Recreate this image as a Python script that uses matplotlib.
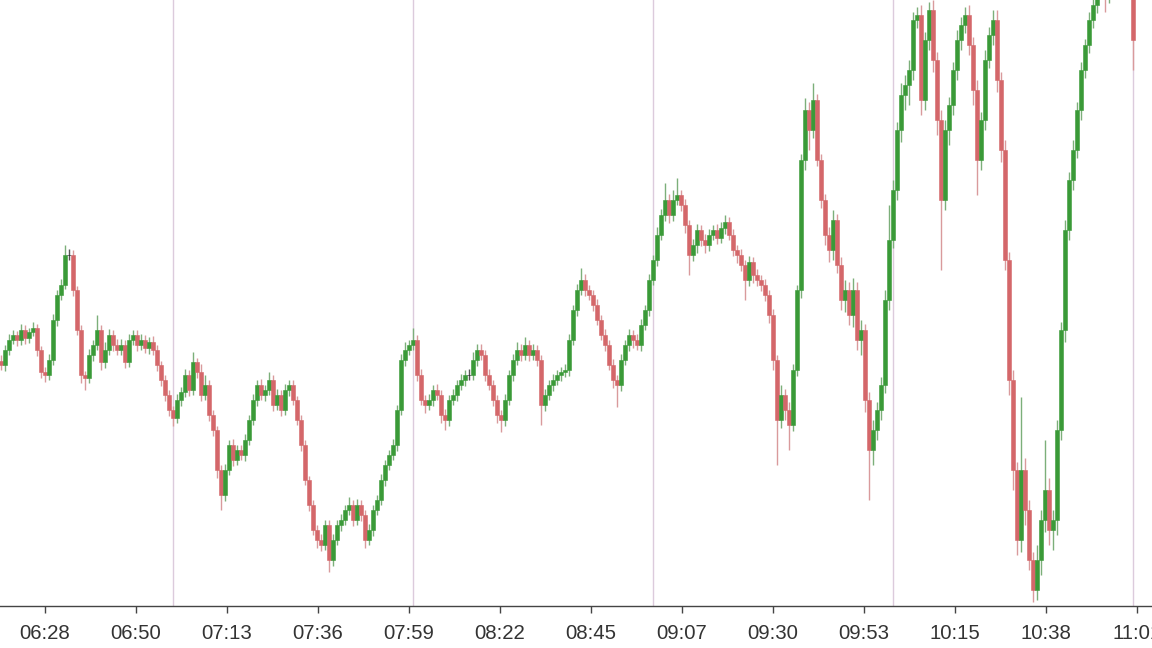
import matplotlib
matplotlib.use("Agg")
import matplotlib.pyplot as plt
import numpy as np

# one-minute bars, x in minutes counted from 06:00
bar_start = 17
first_open = 245

closes = [
    241, 256, 266, 271, 266, 276, 268, 274, 278, 256,
    234, 231, 246, 286, 311, 321, 351, 351, 316, 276,
    231, 228, 251, 261, 276, 244, 256, 271, 261, 256,
    261, 244, 266, 271, 261, 266, 258, 264, 256, 241,
    226, 211, 196, 188, 206, 214, 231, 216, 244, 234,
    211, 221, 191, 176, 136, 111, 136, 161, 146, 156,
    151, 166, 186, 206, 221, 211, 216, 226, 201, 211,
    196, 216, 221, 206, 186, 161, 126, 101, 76, 66,
    61, 81, 46, 66, 81, 86, 96, 101, 86, 101,
    91, 66, 76, 96, 106, 126, 141, 151, 161, 196,
    246, 256, 261, 266, 231, 206, 201, 206, 216, 211,
    191, 186, 206, 211, 221, 226, 231, 231, 246, 256,
    251, 231, 221, 206, 191, 186, 206, 231, 246, 256,
    251, 261, 251, 256, 246, 201, 211, 221, 226, 231,
    234, 236, 266, 296, 316, 326, 316, 311, 301, 286,
    271, 261, 241, 226, 221, 246, 261, 271, 266, 261,
    281, 296, 326, 346, 371, 391, 406, 391, 406, 411,
    401, 381, 351, 361, 376, 366, 361, 371, 376, 368,
    378, 384, 371, 356, 351, 341, 326, 344, 331, 326,
    321, 311, 291, 246, 186, 211, 196, 181, 236, 316,
    446, 496, 476, 506, 446, 406, 371, 356, 386, 341,
    306, 316, 291, 316, 266, 276, 206, 156, 176, 196,
    221, 306, 366, 416, 476, 511, 521, 536, 586, 591,
    506, 566, 596, 546, 486, 406, 476, 501, 536, 566,
    581, 591, 561, 516, 446, 486, 546, 571, 586, 526,
    456, 346, 226, 136, 66, 136, 96, 46, 16, 46,
    86, 116, 76, 86, 176, 276, 376, 426, 456, 496,
    536, 561, 586, 601, 621, 631, 611, 626, 641, 646,
    651, 646, 636, 566,
]

wick_up = [
    6, 5, 6, 5, 4, 6, 5, 4, 6, 4,
    4, 5, 6, 6, 5, 6, 10, 6, 5, 4,
    5, 4, 6, 5, 15, 5, 8, 6, 5, 6,
    6, 5, 6, 5, 5, 6, 5, 5, 6, 5,
    4, 5, 5, 4, 6, 5, 6, 5, 10, 4,
    8, 10, 5, 5, 4, 5, 6, 5, 6, 5,
    5, 6, 5, 6, 5, 6, 5, 8, 5, 6,
    5, 6, 5, 5, 4, 5, 5, 4, 5, 5,
    6, 5, 5, 6, 5, 6, 5, 8, 5, 6,
    5, 5, 6, 5, 5, 6, 5, 5, 6, 5,
    6, 8, 5, 12, 5, 6, 5, 6, 5, 6,
    5, 6, 5, 6, 5, 6, 5, 6, 8, 6,
    6, 5, 6, 5, 5, 5, 6, 5, 6, 8,
    6, 8, 5, 6, 5, 5, 6, 5, 6, 5,
    5, 6, 6, 5, 6, 12, 6, 5, 5, 6,
    5, 6, 5, 6, 5, 6, 5, 6, 5, 6,
    6, 5, 6, 5, 8, 6, 17, 6, 10, 17,
    5, 6, 5, 6, 6, 5, 6, 6, 5, 6,
    6, 7, 5, 6, 5, 6, 5, 6, 5, 6,
    5, 6, 5, 6, 5, 10, 6, 8, 6, 5,
    6, 12, 8, 17, 6, 6, 6, 8, 10, 6,
    8, 10, 8, 12, 8, 10, 6, 8, 10, 8,
    8, 10, 35, 10, 8, 12, 10, 10, 8, 8,
    10, 8, 8, 10, 8, 10, 10, 8, 8, 10,
    8, 8, 10, 8, 10, 8, 10, 8, 10, 10,
    8, 10, 8, 10, 8, 73, 12, 10, 8, 15,
    10, 50, 12, 10, 10, 8, 10, 8, 10, 8,
    8, 6, 8, 6, 8, 6, 6, 8, 6, 6,
    6, 6, 6, 6,
]

wick_dn = [
    5, 6, 5, 4, 6, 5, 6, 5, 4, 6,
    6, 7, 5, 5, 6, 5, 4, 5, 6, 5,
    8, 12, 5, 6, 5, 8, 6, 5, 6, 5,
    5, 6, 5, 5, 6, 5, 5, 6, 5, 6,
    6, 6, 6, 8, 5, 6, 5, 6, 5, 6,
    6, 5, 6, 6, 8, 15, 6, 5, 6, 5,
    5, 6, 5, 5, 6, 5, 6, 5, 6, 5,
    6, 5, 6, 5, 5, 6, 5, 6, 5, 8,
    6, 5, 12, 6, 5, 6, 5, 5, 6, 5,
    6, 8, 5, 6, 5, 5, 6, 5, 5, 6,
    5, 6, 5, 5, 6, 5, 8, 5, 6, 5,
    8, 10, 6, 5, 6, 5, 6, 5, 5, 6,
    5, 6, 5, 6, 8, 12, 6, 5, 6, 5,
    6, 5, 6, 5, 6, 20, 6, 5, 6, 5,
    6, 5, 6, 5, 6, 5, 6, 5, 6, 5,
    5, 6, 5, 8, 22, 6, 5, 6, 8, 5,
    6, 5, 6, 5, 6, 5, 6, 8, 6, 5,
    6, 8, 20, 6, 8, 6, 8, 6, 5, 6,
    5, 6, 5, 6, 8, 6, 20, 6, 8, 6,
    6, 6, 8, 10, 45, 8, 10, 25, 6, 6,
    8, 10, 20, 8, 6, 8, 10, 12, 10, 8,
    10, 12, 10, 12, 10, 15, 12, 50, 15, 10,
    10, 8, 10, 8, 10, 12, 15, 20, 10, 8,
    15, 10, 10, 12, 15, 70, 10, 15, 10, 10,
    10, 8, 10, 15, 35, 10, 10, 8, 10, 12,
    12, 10, 15, 20, 15, 12, 15, 10, 12, 10,
    15, 12, 15, 20, 15, 10, 12, 10, 10, 8,
    10, 8, 8, 8, 8, 10, 17, 8, 8, 8,
    8, 8, 8, 30,
]

tick_minutes = [28, 50.75, 73.5, 96.25, 119, 141.75, 164.5, 187.25, 210, 232.75, 255.5, 278.25, 301]
tick_labels = ['06:28', '06:50', '07:13', '07:36', '07:59', '08:22', '08:45',
               '09:07', '09:30', '09:53', '10:15', '10:38', '11:01']
hour_lines = [60, 120, 180, 240, 300]

closes = np.array(closes, dtype=float)
opens = np.concatenate([[first_open], closes[:-1]])
highs = np.maximum(opens, closes) + np.array(wick_up)
lows = np.minimum(opens, closes) - np.array(wick_dn)
xs = bar_start + np.arange(len(closes))

green = '#3a9a38'
red = '#d4676a'
body_cols = []
wick_cols = []
for o, c in zip(opens, closes):
    if c > o:
        body_cols.append(green); wick_cols.append('#7caf7a')
    elif c < o:
        body_cols.append(red); wick_cols.append('#d99a9c')
    else:
        body_cols.append('#222222'); wick_cols.append('#555555')

fig = plt.figure(figsize=(11.52, 6.48), dpi=100)
ax = fig.add_axes([0, 42 / 648, 1, 606 / 648])

for h in hour_lines:
    ax.axvline(h, color='#dccbdc', lw=1.0, zorder=0)

ax.vlines(xs, lows, highs, colors=wick_cols, lw=1.0, zorder=2)
ax.bar(xs, closes - opens, bottom=opens, width=0.85, color=body_cols,
       edgecolor=body_cols, linewidth=0.4, zorder=3)

ax.set_xlim(16.75, 304.75)
ax.set_ylim(0, 606)
for s in ['left', 'right', 'top']:
    ax.spines[s].set_visible(False)
ax.spines['bottom'].set_color('#444444')
ax.spines['bottom'].set_linewidth(1.0)
ax.set_yticks([])
ax.set_xticks(tick_minutes)
ax.set_xticklabels(tick_labels, fontsize=14.7, color='#333333', family=['Liberation Sans', 'DejaVu Sans'])
ax.tick_params(axis='x', direction='out', length=5, width=1, color='#444444', pad=8)

fig.savefig('out.png', dpi=100)
